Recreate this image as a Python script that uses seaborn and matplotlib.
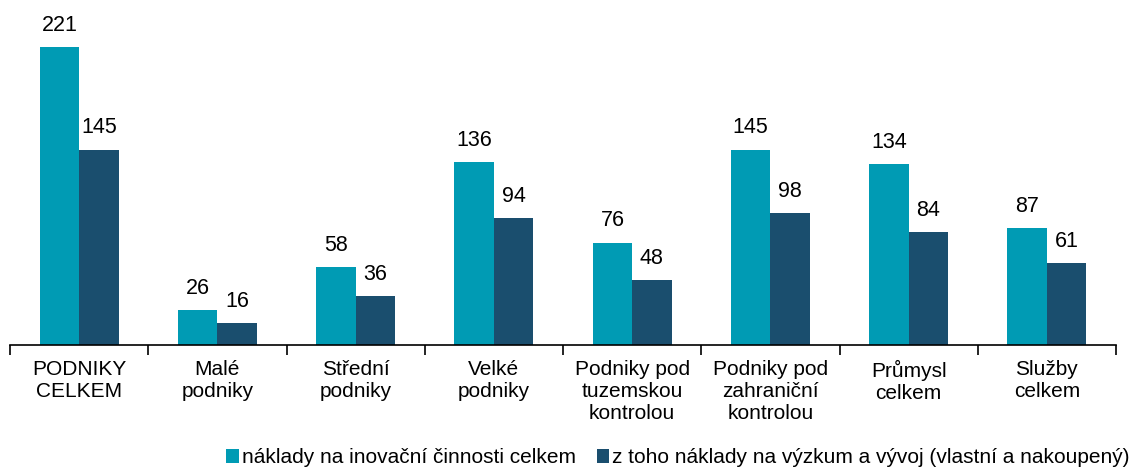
import numpy as np
import pandas as pd
import matplotlib.pyplot as plt
import seaborn as sns

categories = [
    "PODNIKY\nCELKEM",
    "Malé\npodniky",
    "Střední\npodniky",
    "Velké\npodniky",
    "Podniky pod\ntuzemskou\nkontrolou",
    "Podniky pod\nzahraniční\nkontrolou",
    "Průmysl\ncelkem",
    "Služby\ncelkem",
]
inovace = [221, 26, 58, 136, 76, 145, 134, 87]
vyzkum = [145, 16, 36, 94, 48, 98, 84, 61]
series = [
    "náklady na inovační činnosti celkem",
    "z toho náklady na výzkum a vývoj (vlastní a nakoupený)",
]

df = pd.DataFrame({
    "kategorie": categories * 2,
    "hodnota": inovace + vyzkum,
    "rada": [series[0]] * len(categories) + [series[1]] * len(categories),
})

sns.set_style("white")
plt.rcParams["font.family"] = ["Liberation Sans", "DejaVu Sans"]
plt.rcParams["text.color"] = "#000000"
plt.rcParams["xtick.color"] = "#000000"

fig = plt.figure(figsize=(11.34, 4.70), dpi=100)
ax = fig.add_axes([10 / 1134, 0.266, 1106 / 1134, 0.734])

sns.barplot(
    data=df, x="kategorie", y="hodnota", hue="rada",
    palette=["#009BB4", "#1A4E6E"], width=0.57, gap=0,
    saturation=1, linewidth=0, ax=ax, legend=True,
)

for cont in ax.containers:
    ax.bar_label(cont, fmt="%d", padding=8, fontsize=15.5, color="#000000")

ax.set_ylim(0, 256)
ax.set_xlim(-0.5, len(categories) - 0.5)
ax.set_xlabel("")
ax.set_ylabel("")
ax.set_yticks([])
for s in ["top", "right", "left"]:
    ax.spines[s].set_visible(False)
ax.spines["bottom"].set_color("#000000")
ax.spines["bottom"].set_linewidth(1.2)
ax.tick_params(axis="x", which="major", bottom=False, length=0, pad=11, labelsize=15, labelcolor="#000000")
ax.set_xticks(np.arange(len(categories) + 1) - 0.5, minor=True)
ax.tick_params(axis="x", which="minor", bottom=True, length=7, width=1.2, color="#000000", direction="out")

handles, labels = ax.get_legend_handles_labels()
leg = ax.legend(
    handles, labels, loc="center", bbox_to_anchor=(0.598, 0.026),
    bbox_transform=fig.transFigure, ncol=2, frameon=False, fontsize=15,
    handlelength=0.6, handleheight=0.6, handletextpad=0.15, columnspacing=1.0,
)
for t in leg.get_texts():
    t.set_color("#000000")

fig.savefig("out.png", dpi=100)
